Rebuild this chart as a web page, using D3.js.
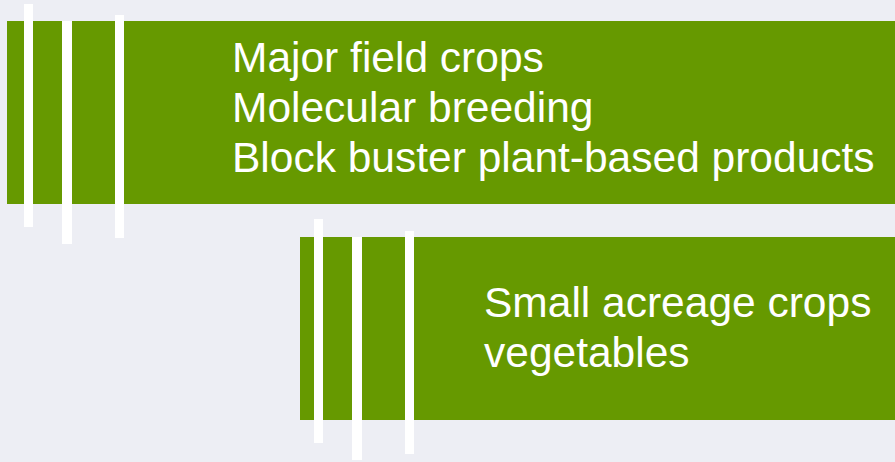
<!DOCTYPE html>
<html>
<head>
<meta charset="utf-8">
<script src="https://cdn.jsdelivr.net/npm/d3@7"></script>
<style>
  html, body { margin: 0; padding: 0; background: #edeef4; }
  svg { display: block; }
</style>
</head>
<body>
<div id="chart"></div>
<script>
// Diagram content: one entry per green band
const groups = ["field", "small"]
const groupLines = [
  ["Major field crops", "Molecular breeding", "Block buster plant-based products"],
  ["Small acreage crops", "vegetables"]
]
// three white bars per band, listed by how far they stick out (top, bottom)
const barOverhang = [
  [[17, 23], [0, 40], [6, 34]],
  [[18, 23], [0, 40], [6, 34]]
]

const W = 895, H = 462
const svg = d3.select("#chart").append("svg")
  .attr("width", W).attr("height", H)

svg.append("rect").attr("width", W).attr("height", H).attr("fill", "#edeef4")

// band layout
const bandLeft = d3.scaleOrdinal().domain(groups).range([7, 300])
const bandTop = d3.scaleOrdinal().domain(groups).range([21, 237])
const textLeft = d3.scaleOrdinal().domain(groups).range([232, 484])
const textTop = d3.scaleOrdinal().domain(groups).range([72, 317])
const barX = [
  d3.scaleOrdinal().domain([0, 1, 2]).range([24, 62, 115]),
  d3.scaleOrdinal().domain([0, 1, 2]).range([314, 352, 405])
]
const bandH = 183
const lineH = 50
const fontSize = 42.5

groups.forEach((g, gi) => {
  const x0 = bandLeft(g), y0 = bandTop(g)
  const grp = svg.append("g")

  grp.append("rect")
    .attr("x", x0).attr("y", y0)
    .attr("width", W - x0).attr("height", bandH)
    .attr("fill", "#669900")

  grp.selectAll("rect.bar")
    .data(barOverhang[gi])
    .join("rect")
    .attr("class", "bar")
    .attr("x", (d, i) => barX[gi](i))
    .attr("y", d => y0 - d[0])
    .attr("width", (d, i) => i === 1 ? 10 : 9)
    .attr("height", d => bandH + d[0] + d[1])
    .attr("fill", "#ffffff")

  grp.selectAll("text")
    .data(groupLines[gi])
    .join("text")
    .attr("x", textLeft(g))
    .attr("y", (d, i) => textTop(g) + i * lineH)
    .attr("fill", "#ffffff")
    .attr("font-family", "'Liberation Sans', Arial, sans-serif")
    .attr("font-size", fontSize)
    .text(d => d)
})
</script>
</body>
</html>
